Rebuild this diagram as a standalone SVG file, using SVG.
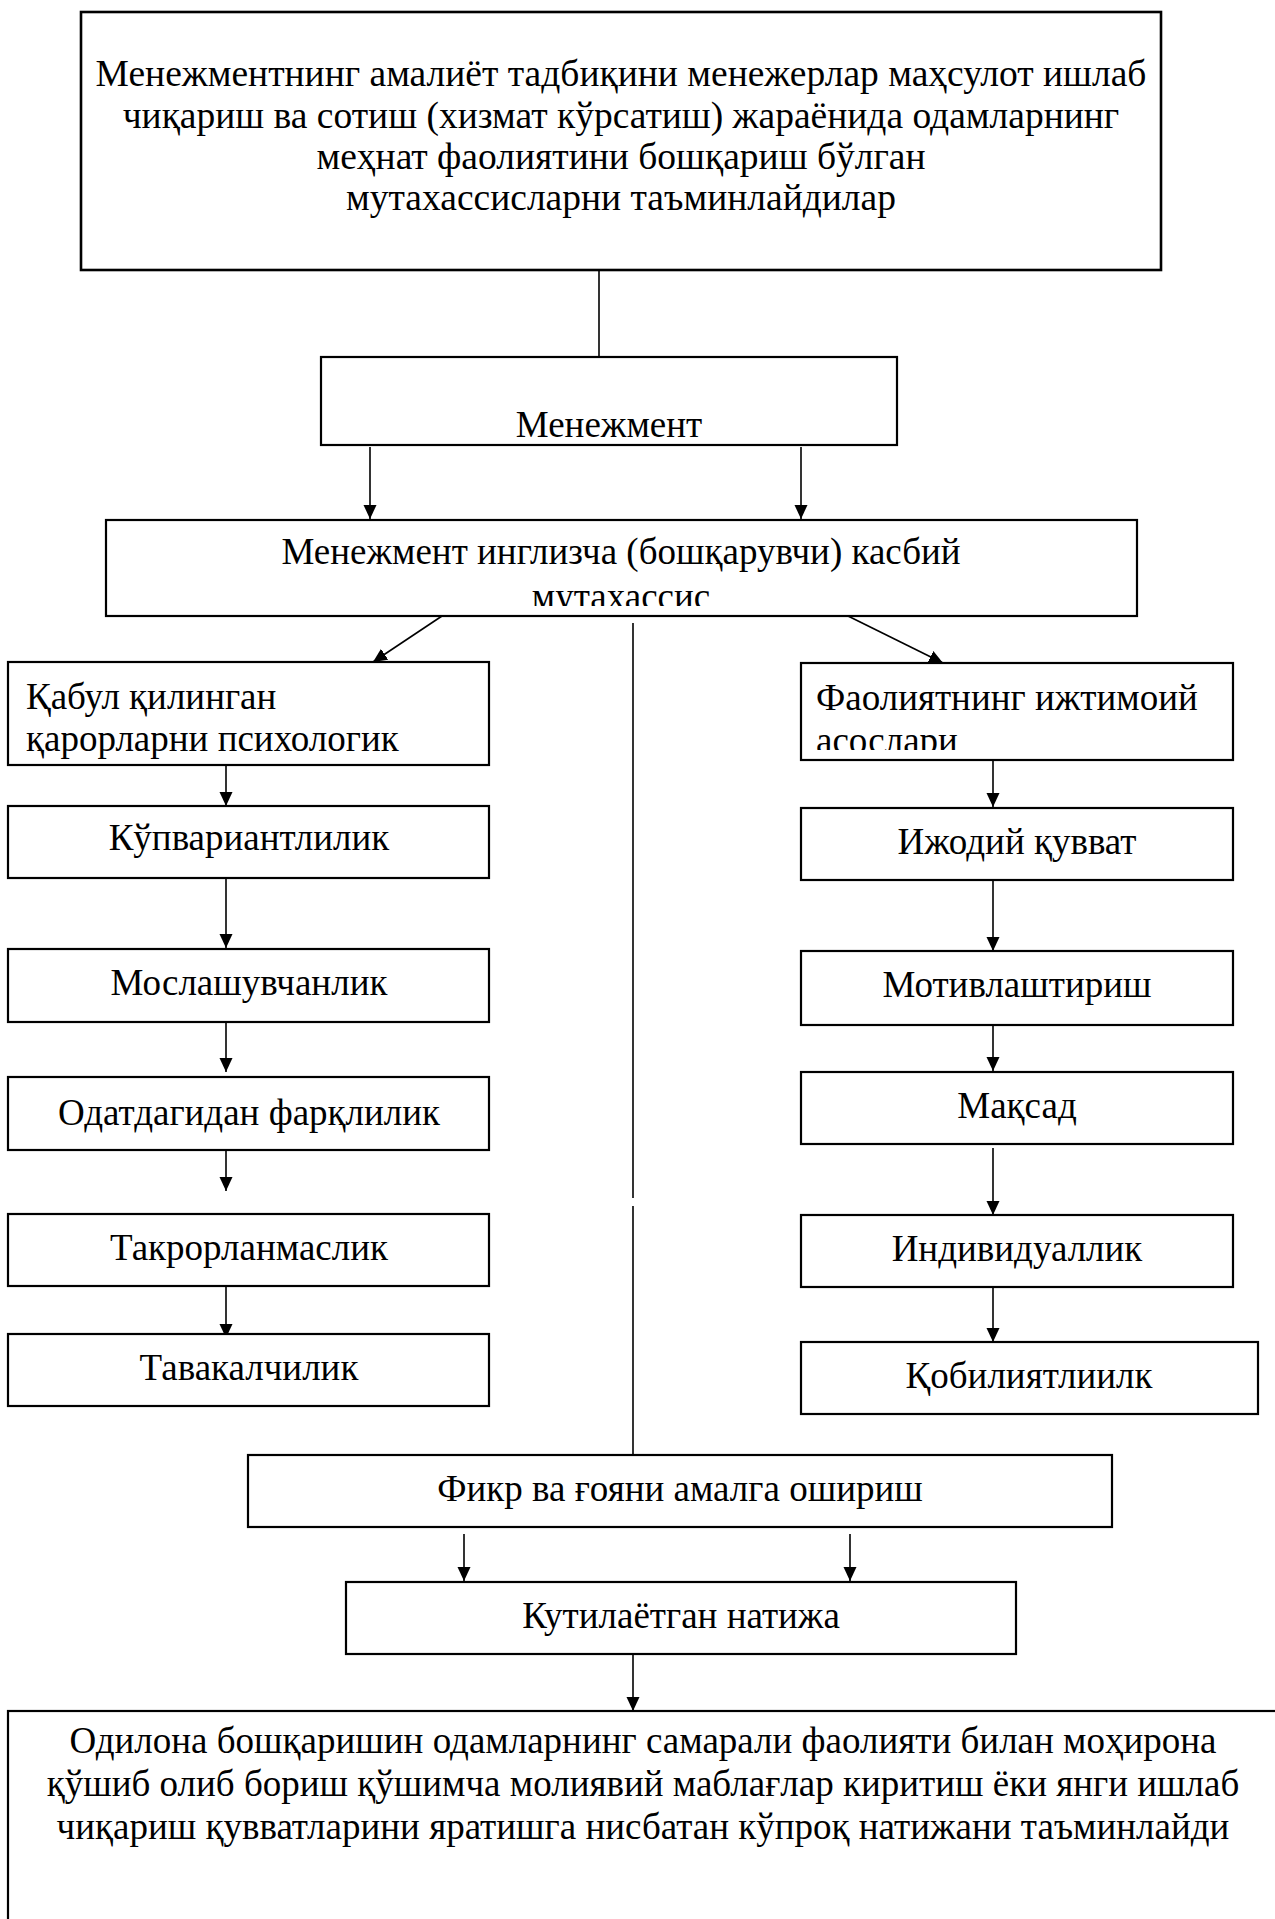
<svg xmlns="http://www.w3.org/2000/svg" width="1275" height="1919" viewBox="0 0 1275 1919">
<style>
.box{fill:#fff;stroke:#000;stroke-width:2.2}
.t{font-family:"Liberation Serif","Times New Roman",serif;font-size:37px;fill:#000}
.c{text-anchor:middle}
.ln{stroke:#000;stroke-width:1.6;fill:none}
</style>
<defs>
<marker id="ah" markerUnits="userSpaceOnUse" markerWidth="15" markerHeight="14" refX="14" refY="6.5" orient="auto">
<path d="M0,0 L14,6.5 L0,13 z" fill="#000"/>
</marker>
<clipPath id="clipA"><rect x="106" y="520" width="1031" height="86"/></clipPath>
<clipPath id="clipB"><rect x="801" y="663" width="432" height="87"/></clipPath>
</defs>
<rect width="1275" height="1919" fill="#fff"/>

<g id="connectors">
<line class="ln" x1="599" y1="261" x2="599" y2="357"/>
<line class="ln" x1="370" y1="447" x2="370" y2="519" marker-end="url(#ah)"/>
<line class="ln" x1="801" y1="447" x2="801" y2="519" marker-end="url(#ah)"/>
<line class="ln" x1="442" y1="616" x2="373" y2="662" marker-end="url(#ah)"/>
<line class="ln" x1="848" y1="616" x2="943" y2="663" marker-end="url(#ah)"/>
<line class="ln" x1="633" y1="623" x2="633" y2="1198"/>
<line class="ln" x1="633" y1="1206" x2="633" y2="1463"/>
<line class="ln" x1="226" y1="765" x2="226" y2="806" marker-end="url(#ah)"/>
<line class="ln" x1="226" y1="878" x2="226" y2="948" marker-end="url(#ah)"/>
<line class="ln" x1="226" y1="1022" x2="226" y2="1072" marker-end="url(#ah)"/>
<line class="ln" x1="226" y1="1150" x2="226" y2="1191" marker-end="url(#ah)"/>
<line class="ln" x1="226" y1="1270" x2="226" y2="1338" marker-end="url(#ah)"/>
<line class="ln" x1="993" y1="760" x2="993" y2="807" marker-end="url(#ah)"/>
<line class="ln" x1="993" y1="880" x2="993" y2="951" marker-end="url(#ah)"/>
<line class="ln" x1="993" y1="1025" x2="993" y2="1071" marker-end="url(#ah)"/>
<line class="ln" x1="993" y1="1148" x2="993" y2="1215" marker-end="url(#ah)"/>
<line class="ln" x1="993" y1="1287" x2="993" y2="1342" marker-end="url(#ah)"/>
<line class="ln" x1="464" y1="1534" x2="464" y2="1581" marker-end="url(#ah)"/>
<line class="ln" x1="850" y1="1534" x2="850" y2="1581" marker-end="url(#ah)"/>
<line class="ln" x1="633" y1="1654" x2="633" y2="1711" marker-end="url(#ah)"/>
</g>

<g id="n-top">
<rect class="box" x="81" y="12" width="1080" height="258" style="stroke-width:2.6"/>
<text class="t c" x="621" y="86" style="font-size:37.5px">Менежментнинг амалиёт тадбиқини менежерлар маҳсулот ишлаб</text>
<text class="t c" x="621" y="128" style="font-size:37.5px">чиқариш ва сотиш (хизмат кўрсатиш) жараёнида одамларнинг</text>
<text class="t c" x="621" y="169" style="font-size:37.5px">меҳнат фаолиятини бошқариш бўлган</text>
<text class="t c" x="621" y="210" style="font-size:37.5px">мутахассисларни таъминлайдилар</text>
</g>

<g id="n-menejment">
<rect class="box" x="321" y="357" width="576" height="88"/>
<text class="t c" x="609" y="437">Менежмент</text>
</g>

<g id="n-inglizcha">
<rect class="box" x="106" y="520" width="1031" height="96"/>
<text class="t c" x="621" y="564">Менежмент инглизча (бошқарувчи) касбий</text>
<text class="t c" x="621" y="609" clip-path="url(#clipA)">мутахассис</text>
</g>

<g id="n-qabul">
<rect class="box" x="8" y="662" width="481" height="103"/>
<text class="t" x="26" y="709">Қабул қилинган</text>
<text class="t" x="26" y="751">қарорларни психологик</text>
</g>
<g id="n-kupvariant">
<rect class="box" x="8" y="806" width="481" height="72"/>
<text class="t c" x="249" y="850">Кўпвариантлилик</text>
</g>
<g id="n-moslash">
<rect class="box" x="8" y="949" width="481" height="73"/>
<text class="t c" x="249" y="995">Мослашувчанлик</text>
</g>
<g id="n-odat">
<rect class="box" x="8" y="1077" width="481" height="73"/>
<text class="t c" x="249" y="1125">Одатдагидан фарқлилик</text>
</g>
<g id="n-takror">
<rect class="box" x="8" y="1214" width="481" height="72"/>
<text class="t c" x="249" y="1260">Такрорланмаслик</text>
</g>
<g id="n-tavakal">
<rect class="box" x="8" y="1334" width="481" height="72"/>
<text class="t c" x="249" y="1380">Тавакалчилик</text>
</g>

<g id="n-faoliyat">
<rect class="box" x="801" y="663" width="432" height="97"/>
<text class="t" x="816" y="710">Фаолиятнинг ижтимоий</text>
<text class="t" x="816" y="753" clip-path="url(#clipB)">асослари</text>
</g>
<g id="n-ijodiy">
<rect class="box" x="801" y="808" width="432" height="72"/>
<text class="t c" x="1017" y="854">Ижодий қувват</text>
</g>
<g id="n-motiv">
<rect class="box" x="801" y="951" width="432" height="74"/>
<text class="t c" x="1017" y="997">Мотивлаштириш</text>
</g>
<g id="n-maqsad">
<rect class="box" x="801" y="1072" width="432" height="72"/>
<text class="t c" x="1017" y="1118">Мақсад</text>
</g>
<g id="n-individ">
<rect class="box" x="801" y="1215" width="432" height="72"/>
<text class="t c" x="1017" y="1261">Индивидуаллик</text>
</g>
<g id="n-qobiliyat">
<rect class="box" x="801" y="1342" width="457" height="72"/>
<text class="t c" x="1029" y="1388">Қобилиятлиилк</text>
</g>

<g id="n-fikr">
<rect class="box" x="248" y="1455" width="864" height="72"/>
<text class="t c" x="680" y="1501">Фикр ва ғояни амалга ошириш</text>
</g>
<g id="n-kutil">
<rect class="box" x="346" y="1582" width="670" height="72"/>
<text class="t c" x="681" y="1628">Кутилаётган натижа</text>
</g>
<g id="n-bottom">
<rect class="box" x="8" y="1711" width="1280" height="240"/>
<text class="t c" x="643" y="1753">Одилона бошқаришин одамларнинг самарали фаолияти билан моҳирона</text>
<text class="t c" x="643" y="1796">қўшиб олиб бориш қўшимча молиявий маблағлар киритиш ёки янги ишлаб</text>
<text class="t c" x="643" y="1839">чиқариш қувватларини яратишга нисбатан кўпроқ натижани таъминлайди</text>
</g>
</svg>
